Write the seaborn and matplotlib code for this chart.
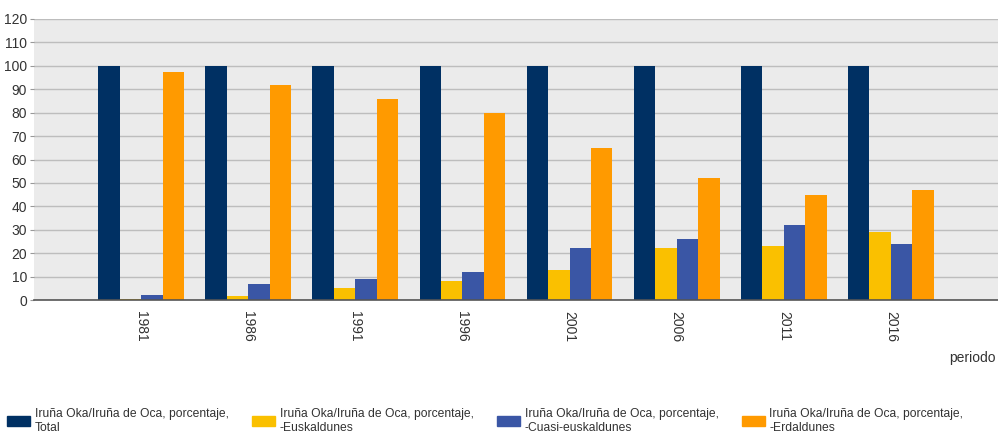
import matplotlib
matplotlib.use("Agg")
import matplotlib.pyplot as plt
import matplotlib.patches as mpatches
import seaborn as sns
import pandas as pd

# data
periods = ["1981", "1986", "1991", "1996", "2001", "2006", "2011", "2016"]
total = [100, 100, 100, 100, 100, 100, 100, 100]
euskaldunes = [0.5, 1.5, 5, 8, 13, 22, 23, 29]
cuasi = [2, 7, 9, 12, 22, 26, 32, 24]
erdaldunes = [97.5, 92, 86, 80, 65, 52, 45, 47]

series_names = [
    "Iruña Oka/Iruña de Oca, porcentaje,\nTotal",
    "Iruña Oka/Iruña de Oca, porcentaje,\n-Euskaldunes",
    "Iruña Oka/Iruña de Oca, porcentaje,\n-Cuasi-euskaldunes",
    "Iruña Oka/Iruña de Oca, porcentaje,\n-Erdaldunes",
]
colors = ["#003063", "#FAC000", "#3A56A5", "#FF9A00"]

rows = []
for name, vals in zip(series_names, [total, euskaldunes, cuasi, erdaldunes]):
    for p, v in zip(periods, vals):
        rows.append({"periodo": p, "serie": name, "valor": v})
df = pd.DataFrame(rows)

sns.set_style("white")
plt.rcParams["font.family"] = ["Liberation Sans", "DejaVu Sans"]

fig = plt.figure(figsize=(9.98, 4.34), dpi=100)
ax = fig.add_axes([34 / 998, 1 - 300 / 434, 1 - 34 / 998, (300 - 19) / 434])
ax.set_facecolor("#EBEBEB")

sns.barplot(data=df, x="periodo", y="valor", hue="serie", palette=colors,
            width=0.8, saturation=1, linewidth=0, ax=ax, legend=False, zorder=3)

ax.set_xlim(-1, 8)
ax.set_ylim(0, 120)
ax.set_yticks(range(0, 121, 10))
ax.grid(axis="y", color="#BDBDBD", linewidth=1, zorder=0)
ax.set_axisbelow(True)
for s in ["top", "right", "left"]:
    ax.spines[s].set_visible(False)
ax.spines["bottom"].set_color("#555555")
ax.spines["bottom"].set_linewidth(1.2)
ax.spines["bottom"].set_zorder(4)

ax.tick_params(axis="y", length=3, color="#999999", pad=2, labelsize=10, labelcolor="#333333", left=True)
ax.tick_params(axis="x", length=0, pad=8, labelsize=10, labelcolor="#333333")
for lbl in ax.get_xticklabels():
    lbl.set_rotation(-90)
    lbl.set_va("top")
    lbl.set_ha("center")

ax.set_xlabel("")
ax.set_ylabel("")
fig.text(996 / 998, 1 - 358 / 434, "periodo", ha="right", va="center",
         fontsize=10, color="#333333")

handles = [mpatches.Patch(color=c) for c in colors]
fig.legend(handles, series_names, loc="lower left", bbox_to_anchor=(5 / 998, -2 / 434),
           ncol=4, frameon=False, fontsize=8.7, handlelength=1.9, handleheight=1.0,
           handletextpad=0.4, columnspacing=1.9, labelcolor="#333333",
           borderaxespad=0.0, borderpad=0.2)

fig.savefig("out.png", dpi=100)
